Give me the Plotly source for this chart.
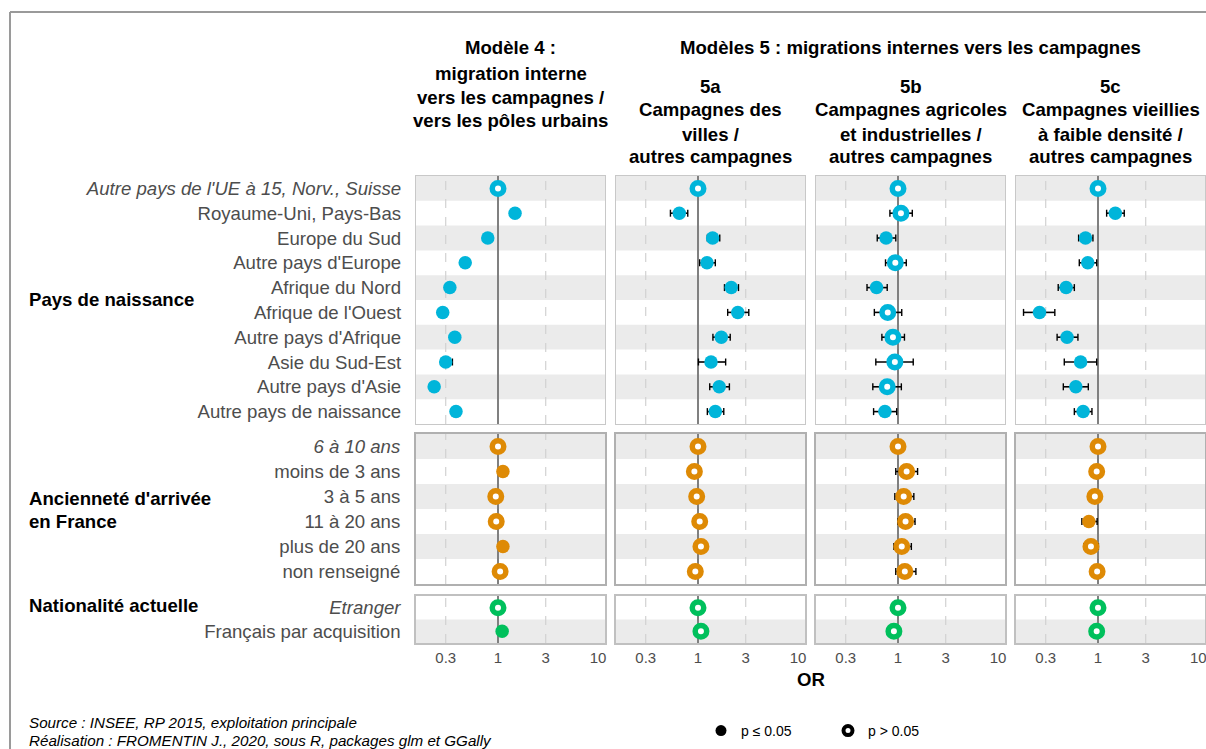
import math
import plotly.graph_objects as go

W, H = 1206, 749

# ---------------- DATA ----------------
models = ["m4", "m5a", "m5b", "m5c"]

pays_labels = ["<i>Autre pays de l'UE à 15, Norv., Suisse</i>", "Royaume-Uni, Pays-Bas", "Europe du Sud",
               "Autre pays d'Europe", "Afrique du Nord", "Afrique de l'Ouest", "Autre pays d'Afrique",
               "Asie du Sud-Est", "Autre pays d'Asie", "Autre pays de naissance"]
anc_labels = ["<i>6 à 10 ans</i>", "moins de 3 ans", "3 à 5 ans", "11 à 20 ans", "plus de 20 ans", "non renseigné"]
nat_labels = ["<i>Etranger</i>", "Français par acquisition"]

pays_or = {
    "m4":  [1, 1.48, 0.79, 0.47, 0.33, 0.28, 0.37, 0.30, 0.23, 0.38],
    "m5a": [1, 0.65, 1.40, 1.23, 2.15, 2.50, 1.71, 1.35, 1.63, 1.49],
    "m5b": [1, 1.07, 0.76, 0.94, 0.61, 0.79, 0.89, 0.93, 0.78, 0.74],
    "m5c": [1, 1.49, 0.75, 0.79, 0.48, 0.26, 0.49, 0.67, 0.60, 0.71],
}
pays_lo = {
    "m4":  [1, 1.40, 0.76, 0.45, 0.32, 0.27, 0.35, 0.27, 0.22, 0.36],
    "m5a": [1, 0.53, 1.24, 1.04, 1.84, 1.98, 1.41, 1.01, 1.31, 1.24],
    "m5b": [1, 0.83, 0.62, 0.75, 0.49, 0.58, 0.69, 0.60, 0.56, 0.57],
    "m5c": [1, 1.22, 0.64, 0.65, 0.40, 0.18, 0.39, 0.46, 0.45, 0.58],
}
pays_hi = {
    "m4":  [1, 1.56, 0.82, 0.49, 0.35, 0.29, 0.39, 0.35, 0.24, 0.40],
    "m5a": [1, 0.79, 1.65, 1.49, 2.54, 3.22, 2.10, 1.89, 2.06, 1.81],
    "m5b": [1, 1.39, 0.95, 1.21, 0.78, 1.09, 1.16, 1.42, 1.08, 0.97],
    "m5c": [1, 1.83, 0.89, 0.97, 0.58, 0.37, 0.63, 0.97, 0.80, 0.87],
}
pays_sig = {
    "m4":  [0, 1, 1, 1, 1, 1, 1, 1, 1, 1],
    "m5a": [0, 1, 1, 1, 1, 1, 1, 1, 1, 1],
    "m5b": [0, 0, 1, 0, 1, 0, 0, 0, 0, 1],
    "m5c": [0, 1, 1, 1, 1, 1, 1, 1, 1, 1],
}

anc_or = {
    "m4":  [1, 1.12, 0.95, 0.96, 1.12, 1.05],
    "m5a": [1, 0.92, 0.97, 1.04, 1.07, 0.94],
    "m5b": [1, 1.22, 1.14, 1.19, 1.09, 1.17],
    "m5c": [1, 0.97, 0.93, 0.81, 0.85, 0.98],
}
anc_lo = {
    "m4":  [1, 1.06, 0.90, 0.91, 1.07, 0.97],
    "m5a": [1, 0.82, 0.87, 0.95, 0.98, 0.83],
    "m5b": [1, 0.95, 0.93, 1.00, 0.91, 0.95],
    "m5c": [1, 0.86, 0.83, 0.69, 0.72, 0.86],
}
anc_hi = {
    "m4":  [1, 1.18, 1.01, 1.01, 1.17, 1.13],
    "m5a": [1, 1.03, 1.08, 1.14, 1.17, 1.06],
    "m5b": [1, 1.57, 1.44, 1.48, 1.36, 1.51],
    "m5c": [1, 1.10, 1.04, 0.98, 1.01, 1.12],
}
anc_sig = {
    "m4":  [0, 1, 0, 0, 1, 0],
    "m5a": [0, 0, 0, 0, 0, 0],
    "m5b": [0, 0, 0, 0, 0, 0],
    "m5c": [0, 0, 0, 1, 0, 0],
}

nat_or = {"m4": [1, 1.10], "m5a": [1, 1.07], "m5b": [1, 0.91], "m5c": [1, 0.97]}
nat_lo = {"m4": [1, 1.06], "m5a": [1, 0.99], "m5b": [1, 0.82], "m5c": [1, 0.89]}
nat_hi = {"m4": [1, 1.14], "m5a": [1, 1.16], "m5b": [1, 1.01], "m5c": [1, 1.06]}
nat_sig = {"m4": [0, 1], "m5a": [0, 0], "m5b": [0, 0], "m5c": [0, 0]}

x_ticks = [0.3, 1, 3, 10]
x_tick_text = ["0.3", "1", "3", "10"]
grid_dashed = [0.3, 3]
ref_value = 1

# ---------------- STYLE ----------------
FONT = "Liberation Sans, Arial, sans-serif"
groups = [
    dict(labels=pays_labels, orv=pays_or, lo=pays_lo, hi=pays_hi, sig=pays_sig, color="#00B5DA",
         y=(176, 424), stripe=0, border="#c8c8c8", bw=1.3),
    dict(labels=anc_labels, orv=anc_or, lo=anc_lo, hi=anc_hi, sig=anc_sig, color="#DE8A05",
         y=(434, 584), stripe=0, border="#b0b0b0", bw=2),
    dict(labels=nat_labels, orv=nat_or, lo=nat_lo, hi=nat_hi, sig=nat_sig, color="#00C05C",
         y=(596, 643), stripe=1, border="#c0c0c0", bw=1.5),
]
cols_px = [(416, 605), (616, 805), (816, 1005), (1016, 1205)]
one_px_offset = 82      # pixel distance from panel left edge to OR = 1
px_per_decade = 100

fig = go.Figure()
layout = dict(width=W, height=H, margin=dict(l=0, r=0, t=0, b=0), paper_bgcolor="white",
              plot_bgcolor="white", showlegend=True, font=dict(family=FONT, color="#4D4D4D"))
shapes = []
annotations = []

k = 0
for gi, g in enumerate(groups):
    n = len(g["labels"])
    for ci, m in enumerate(models):
        k += 1
        xs, ys = ("x%d" % k if k > 1 else "x"), ("y%d" % k if k > 1 else "y")
        xk, yk = ("xaxis%d" % k if k > 1 else "xaxis"), ("yaxis%d" % k if k > 1 else "yaxis")
        x0p, x1p = cols_px[ci]
        lo_log = -one_px_offset / px_per_decade
        hi_log = lo_log + (x1p - x0p) / px_per_decade
        layout[xk] = dict(domain=[x0p / W, x1p / W], anchor=ys, type="log", range=[lo_log, hi_log],
                          tickvals=x_ticks, ticktext=x_tick_text, showticklabels=(gi == 2),
                          tickfont=dict(size=15, color="#4D4D4D"), ticks="", ticklabelstandoff=0,
                          showgrid=False, zeroline=False, showline=True, mirror=True,
                          linecolor=g["border"], linewidth=g["bw"], fixedrange=True)
        layout[yk] = dict(domain=[1 - g["y"][1] / H, 1 - g["y"][0] / H], anchor=xs,
                          range=[n - 0.5, -0.5], tickvals=list(range(n)), ticktext=g["labels"],
                          showticklabels=(ci == 0), tickfont=dict(size=18.6, color="#4D4D4D"),
                          ticks="", ticklabelstandoff=10, showgrid=False, zeroline=False,
                          showline=True, mirror=True, linecolor=g["border"], linewidth=g["bw"],
                          fixedrange=True)
        # stripes
        for i in range(n):
            if i % 2 == g["stripe"]:
                shapes.append(dict(type="rect", xref=xs + " domain", yref=ys, x0=0, x1=1,
                                   y0=i - 0.5, y1=i + 0.5, fillcolor="#EBEBEB", line=dict(width=0),
                                   layer="below"))
        for gv in grid_dashed:
            shapes.append(dict(type="line", xref=xs, yref=ys + " domain", x0=gv, x1=gv, y0=0, y1=1,
                               line=dict(color="#D2D2D2", width=1.2, dash="dash"), layer="below"))
        shapes.append(dict(type="line", xref=xs, yref=ys + " domain", x0=ref_value, x1=ref_value,
                           y0=0, y1=1, line=dict(color="#808080", width=2), layer="below"))
        orv, lo, hi, sig = g["orv"][m], g["lo"][m], g["hi"][m], g["sig"][m]
        # confidence intervals as segments + caps (drawn beneath the points)
        seg_x, seg_y, cap_x, cap_y = [], [], [], []
        for i, (l, h) in enumerate(zip(lo, hi)):
            if h > l:
                seg_x += [l, h, None]
                seg_y += [i, i, None]
                cap_x += [l, h]
                cap_y += [i, i]
        fig.add_trace(go.Scatter(x=seg_x, y=seg_y, xaxis=xs, yaxis=ys, mode="lines",
                                 showlegend=False, hoverinfo="skip",
                                 line=dict(color="black", width=1.6)))
        fig.add_trace(go.Scatter(x=cap_x, y=cap_y, xaxis=xs, yaxis=ys, mode="markers",
                                 showlegend=False, hoverinfo="skip",
                                 marker=dict(symbol="line-ns", size=5, opacity=1,
                                             line=dict(color="black", width=1.4))))
        fig.add_trace(go.Scatter(
            x=orv, y=list(range(n)), xaxis=xs, yaxis=ys, mode="markers", showlegend=False,
            hoverinfo="skip",
            marker=dict(symbol="circle", opacity=1,
                        size=[13.5 if s else 11.5 for s in sig],
                        color=[g["color"] if s else "white" for s in sig],
                        line=dict(color=g["color"], width=[0 if s else 5.5 for s in sig])),
        ))

# the last panel's "10" tick label falls on the page edge in the reference (partly cut)
last_x = "x%d" % k
annotations.append(dict(text=x_tick_text[-1], x=math.log10(x_ticks[-1]), xref=last_x,
                        y=1 - 657 / H, yref="paper", xanchor="center", yanchor="middle",
                        showarrow=False, font=dict(size=15, color="#4D4D4D", family=FONT)))

# legend traces (two one-item legends)
fig.add_trace(go.Scatter(x=[None], y=[None], mode="markers", name="p ≤ 0.05", legend="legend",
                         marker=dict(symbol="circle", size=11, color="black", line=dict(width=0))))
fig.add_trace(go.Scatter(x=[None], y=[None], mode="markers", name="p > 0.05", legend="legend2",
                         marker=dict(symbol="circle", size=9, color="white",
                                     line=dict(color="black", width=4))))
leg_common = dict(orientation="h", yanchor="middle", xanchor="left", y=1 - 731 / H,
                  font=dict(family=FONT, size=14, color="black"), bgcolor="rgba(0,0,0,0)")
layout["legend"] = dict(x=701 / W, **leg_common)
layout["legend2"] = dict(x=828 / W, **leg_common)


def ann(text, x, y, size, bold=False, italic=False, xanchor="center", color="black", family=FONT):
    t = text
    if italic:
        t = "<i>%s</i>" % t
    if bold:
        t = "<b>%s</b>" % t
    annotations.append(dict(text=t, x=x / W, y=1 - y / H, xref="paper", yref="paper",
                            xanchor=xanchor, yanchor="middle", showarrow=False,
                            font=dict(size=size, color=color, family=family)))


HS = 18.6
header_lines = [
    ("Modèle 4 :", 510.5, 48), ("migration interne", 510.5, 73), ("vers les campagnes /", 510.5, 97),
    ("vers les pôles urbains", 510.5, 120),
    ("Modèles 5 : migrations internes vers les campagnes", 911, 48),
    ("5a", 710.5, 86), ("Campagnes des", 710.5, 110), ("villes /", 710.5, 134), ("autres campagnes", 710.5, 157),
    ("5b", 910.5, 86), ("Campagnes agricoles", 910.5, 110), ("et industrielles /", 910.5, 134),
    ("autres campagnes", 910.5, 157),
    ("5c", 1110.5, 86), ("Campagnes vieillies", 1110.5, 110), ("à faible densité /", 1110.5, 134),
    ("autres campagnes", 1110.5, 157),
]
for t, x, y in header_lines:
    ann(t, x, y, HS, bold=True)

ann("Pays de naissance", 27, 300, HS, bold=True, xanchor="left")
ann("Ancienneté d'arrivée", 27, 498, HS, bold=True, xanchor="left")
ann("en France", 27, 521, HS, bold=True, xanchor="left")
ann("Nationalité actuelle", 27, 605, HS, bold=True, xanchor="left")
ann("OR", 811, 679, 18.6, bold=True)
ann("Source : INSEE, RP 2015, exploitation principale", 27, 722, 15.2, italic=True, xanchor="left")
ann("Réalisation : FROMENTIN J., 2020, sous R, packages glm et GGally", 27, 740, 15.2, italic=True,
    xanchor="left")

# outer frame
shapes.append(dict(type="line", xref="paper", yref="paper", x0=10 / W, x1=10 / W, y0=1 - 12 / H, y1=0,
                   line=dict(color="#9a9a9a", width=2)))
shapes.append(dict(type="line", xref="paper", yref="paper", x0=10 / W, x1=1, y0=1 - 12 / H, y1=1 - 12 / H,
                   line=dict(color="#9a9a9a", width=2)))

layout["shapes"] = shapes
layout["annotations"] = annotations
fig.update_layout(**layout)
fig.write_html("out.html", config={"displayModeBar": False},
               post_script="document.body.style.margin='0';document.body.style.overflow='hidden';")
